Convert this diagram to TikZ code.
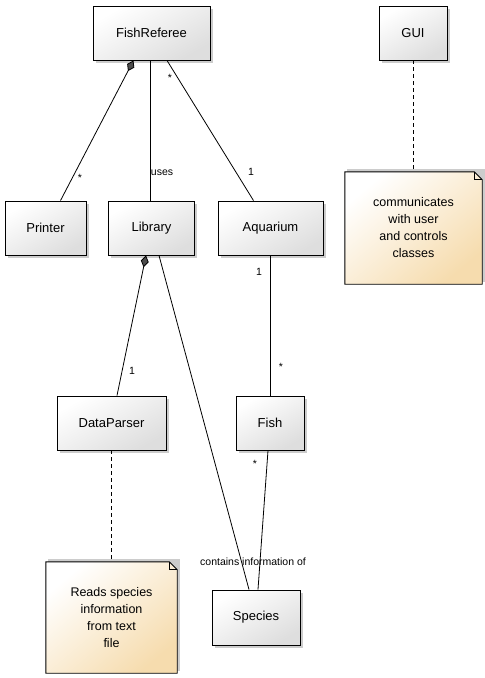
\documentclass[tikz,border=0pt]{standalone}
\usepackage{fontspec}
\setmainfont{Liberation Sans}
\usetikzlibrary{arrows.meta,shadows,backgrounds}
\definecolor{noteend}{HTML}{F6DCAE}
\begin{document}
\begin{tikzpicture}[x=1pt,y=-1pt,
  classbox/.style={draw=black, line width=0.9pt, top color=white, bottom color=black!13, shading angle=30,
    drop shadow={shadow xshift=2.5pt,shadow yshift=-2.5pt,opacity=0.2,fill=black},
    font=\fontsize{13}{15}\selectfont, inner sep=0pt},
  notebox/.style={draw=none, fill=none, align=center, inner sep=0pt,
    font=\fontsize{12.5}{17}\selectfont},
  notepath/.style={draw=black, line width=0.9pt, top color=white, bottom color=noteend, shading angle=40},
  noteshadow/.style={fill=black, opacity=0.2},
  lbl/.style={font=\fontsize{10.5}{12}\selectfont, inner sep=1pt},
  assoc/.style={line width=0.8pt},
  comp/.style={assoc, {Diamond[length=12pt,width=8pt,fill=black!70,line width=0.8pt]}-},
  notelink/.style={line width=0.8pt, dash pattern=on 4pt off 3pt},
]
\useasboundingbox (0,0) rectangle (485,678);

% classes
\node[classbox, minimum width=117pt, minimum height=54pt] (fr) at (151.5,33) {FishReferee};
\node[classbox, minimum width=81pt, minimum height=54pt] (printer) at (45.5,228) {Printer};
\node[classbox, minimum width=86pt, minimum height=54pt] (lib) at (151.5,228) {Library};
\node[classbox, minimum width=105pt, minimum height=54pt] (aq) at (270.5,228) {Aquarium};
\node[classbox, minimum width=68pt, minimum height=54pt] (gui) at (413,33) {GUI};
\node[classbox, minimum width=109pt, minimum height=54pt] (dp) at (111.5,423) {DataParser};
\node[classbox, minimum width=68pt, minimum height=54pt] (fish) at (270,423) {Fish};
\node[classbox, minimum width=88pt, minimum height=55pt] (sp) at (256,617.5) {Species};

% notes
\node[notebox, minimum width=137pt, minimum height=112pt] (gnote) at (413.5,228)
  {communicates\\with user\\and controls\\classes};
\node[notebox, minimum width=131pt, minimum height=111pt] (dnote) at (111.5,617.5)
  {Reads species\\information\\from text\\file};
\begin{scope}[on background layer]
  \path[noteshadow] ([shift={(2.5pt,2.5pt)}]gnote.north west) -- ([shift={(2.5pt,2.5pt)}]gnote.north east)
    -- ([shift={(2.5pt,2.5pt)}]gnote.south east) -- ([shift={(2.5pt,2.5pt)}]gnote.south west) -- cycle;
  \path[notepath] (gnote.north west) -- ([xshift=-8pt]gnote.north east) -- ([yshift=-8pt]gnote.north east)
    -- (gnote.south east) -- (gnote.south west) -- cycle;
  \draw[line width=0.8pt] ([xshift=-8pt]gnote.north east) -- ([xshift=-8pt,yshift=-8pt]gnote.north east) -- ([yshift=-8pt]gnote.north east);
  \path[noteshadow] ([shift={(2.5pt,2.5pt)}]dnote.north west) -- ([shift={(2.5pt,2.5pt)}]dnote.north east)
    -- ([shift={(2.5pt,2.5pt)}]dnote.south east) -- ([shift={(2.5pt,2.5pt)}]dnote.south west) -- cycle;
  \path[notepath] (dnote.north west) -- ([xshift=-8pt]dnote.north east) -- ([yshift=-8pt]dnote.north east)
    -- (dnote.south east) -- (dnote.south west) -- cycle;
  \draw[line width=0.8pt] ([xshift=-8pt]dnote.north east) -- ([xshift=-8pt,yshift=-8pt]dnote.north east) -- ([yshift=-8pt]dnote.north east);
\end{scope}

% connectors
\draw[comp] ([xshift=-18pt]fr.south) -- ([xshift=15pt]printer.north);
\draw[assoc] ([xshift=-1.5pt]fr.south) -- ([xshift=-1.5pt]lib.north);
\draw[assoc] ([xshift=15.5pt]fr.south) -- ([xshift=-17pt]aq.north);
\draw[notelink] (gui.south) -- (gnote.north -| gui.south);
\draw[comp] ([xshift=-5.5pt]lib.south) -- ([xshift=5.5pt]dp.north);
\draw[assoc] ([xshift=7.5pt]lib.south) -- ([xshift=-7pt]sp.north);
\draw[assoc] (aq.south -| fish.north) -- (fish.north);
\draw[assoc] ([xshift=-2pt]fish.south) -- ([xshift=2pt]sp.north);
\draw[notelink] (dp.south) -- (dnote.north -| dp.south);

% labels
\node[lbl] (l1) at (80,178) {*};
\node[lbl] (l2) at (162,173) {uses};
\node[lbl] (l3) at (170,78) {*};
\node[lbl] (l4) at (251,172) {1};
\node[lbl] (l5) at (132,371) {1};
\node[lbl] (l6) at (259,272) {1};
\node[lbl] (l7) at (281,367) {*};
\node[lbl] (l8) at (255,464) {*};
\node[lbl] (l9) at (253,562) {contains information of};
\end{tikzpicture}
\end{document}
